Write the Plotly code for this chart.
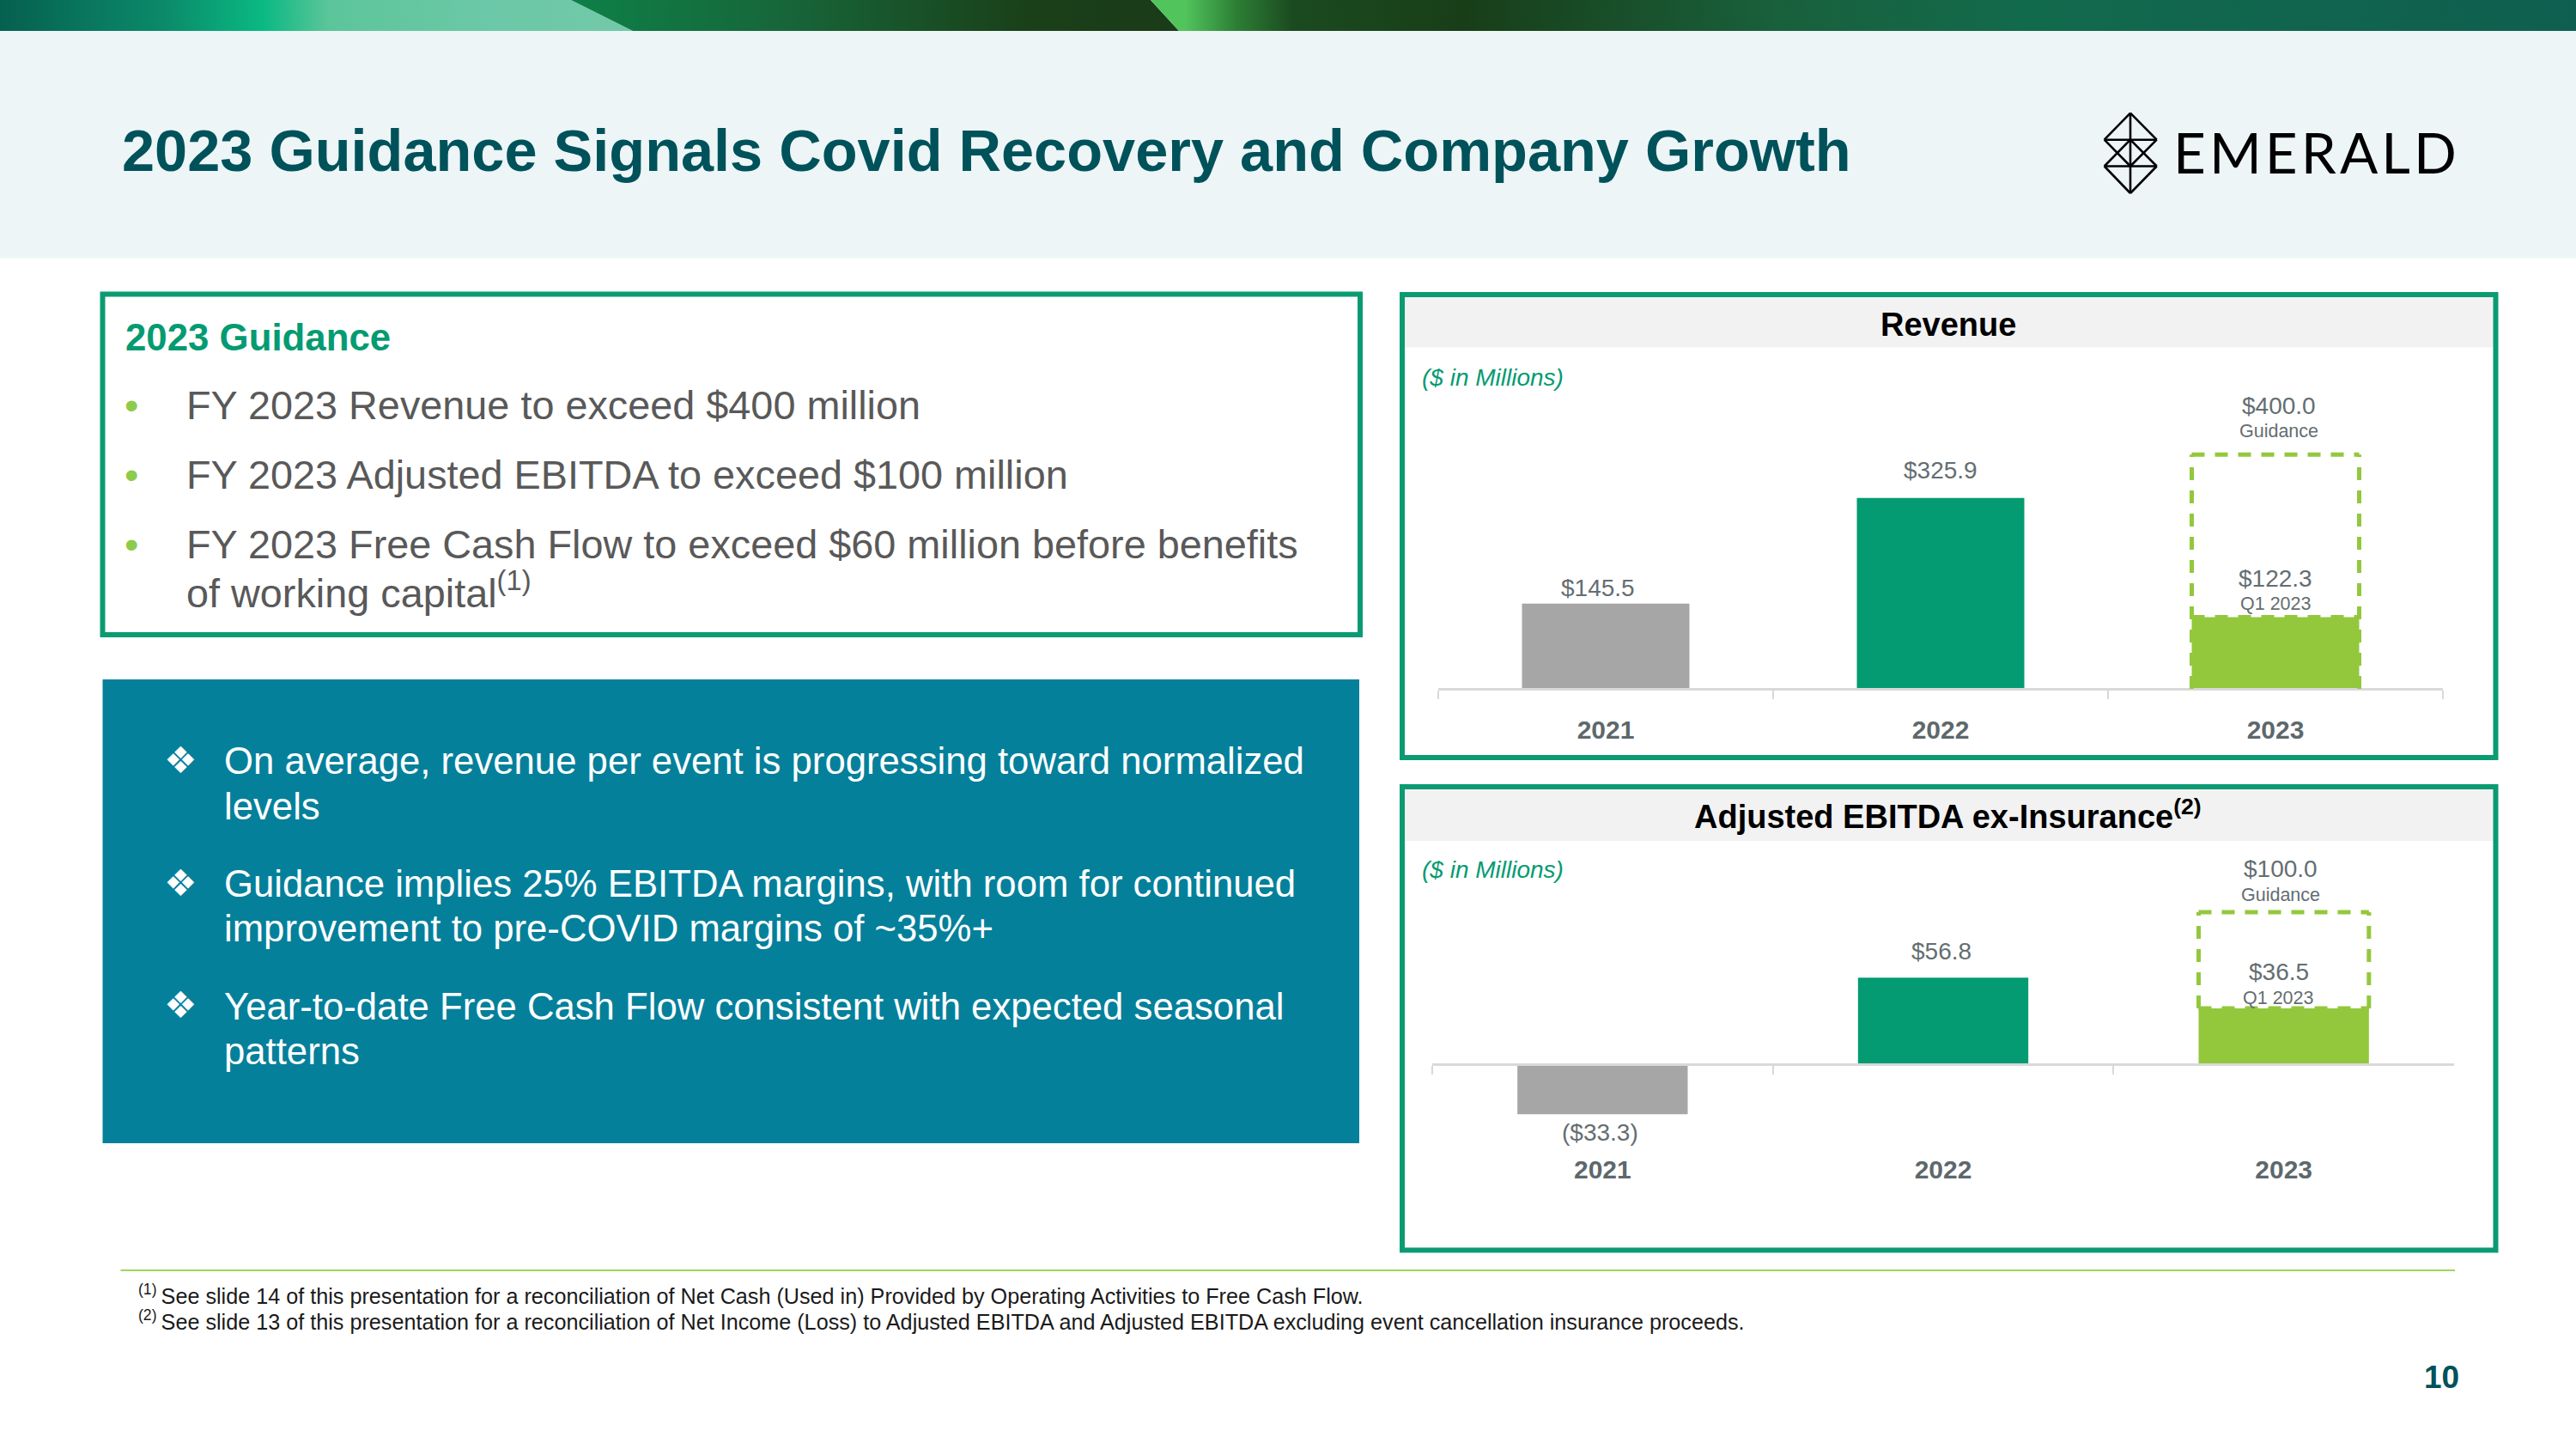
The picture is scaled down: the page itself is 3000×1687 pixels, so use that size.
import plotly.graph_objects as go

W, H = 3000, 1687

years = ["2021", "2022", "2023"]
revenue = [145.5, 325.9, 122.3]
revenue_guidance = 400.0
ebitda = [-33.3, 56.8, 36.5]
ebitda_guidance = 100.0

bar_colors = ["#A6A6A6", "#049B72", "#93C83D"]
panel_green = "#0B9B72"
label_gray = "#646E72"
body_gray = "#595959"
title_teal = "#00525A"
font_main = "Liberation Sans"

title = "2023 Guidance Signals Covid Recovery and Company Growth"
guidance_head = "2023 Guidance"
guidance_lines = [
    "FY 2023 Revenue to exceed $400 million",
    "FY 2023 Adjusted EBITDA to exceed $100 million",
    "FY 2023 Free Cash Flow to exceed $60 million before benefits",
    "of working capital<sup>(1)</sup>",
]
teal_lines = [
    "On average, revenue per event is progressing toward normalized",
    "levels",
    "Guidance implies 25% EBITDA margins, with room for continued",
    "improvement to pre-COVID margins of ~35%+",
    "Year-to-date Free Cash Flow consistent with expected seasonal",
    "patterns",
]
footnotes = [
    "<sup>(1)</sup>\u2009See slide 14 of this presentation for a reconciliation of Net Cash (Used in) Provided by Operating Activities to Free Cash Flow.",
    "<sup>(2)</sup>\u2009See slide 13 of this presentation for a reconciliation of Net Income (Loss) to Adjusted EBITDA and Adjusted EBITDA excluding event cancellation insurance proceeds.",
]


def px(x):
    return x / W


def py(y):
    return 1 - y / H


def money(v):
    return f"(${-v:.1f})" if v < 0 else f"${v:.1f}"


def rect(x0, y0, x1, y1, fill=None, line=None, lw=0):
    return dict(type="rect", xref="paper", yref="paper", x0=px(x0), x1=px(x1), y0=py(y0), y1=py(y1),
                fillcolor=fill if fill else "rgba(0,0,0,0)", layer="below",
                line=dict(color=line if line else "rgba(0,0,0,0)", width=lw))


def seg(x0, y0, x1, y1, color="#000000", lw=2.6):
    return dict(type="line", xref="paper", yref="paper", x0=px(x0), x1=px(x1), y0=py(y0), y1=py(y1),
                line=dict(color=color, width=lw))


def text(x, base, s, size, color, anchor="left", bold=False, italic=False, family=font_main):
    # base is the text baseline in page pixels
    return dict(xref="paper", yref="paper", x=px(x), y=py(base + 1.5 + 0.212 * size), text=s,
                showarrow=False, xanchor=anchor, yanchor="bottom", borderpad=0, align=anchor,
                font=dict(family=family, size=size, color=color, weight="bold" if bold else "normal",
                          style="italic" if italic else "normal"))


def dashed(xr, yr, x0, y0, x1, y1):
    return dict(type="line", xref=xr, yref=yr, x0=x0, x1=x1, y0=y0, y1=y1, layer="above",
                line=dict(color="#93C83D", width=5, dash="15px,12px"))


fig = go.Figure()

# top band, three slanted gradient pieces
band = [
    ([0, 665, 737, 0, 0], [0, 0, 36, 36, 0],
     [[0, "#06604F"], [0.26, "#0B8A6A"], [0.415, "#0AB982"], [0.52, "#5CC59A"], [0.78, "#6CC8A8"], [1, "#72C9A8"]]),
    ([665, 1340, 1373, 737, 665], [0, 0, 36, 36, 0],
     [[0, "#0D8048"], [0.35, "#17663A"], [0.75, "#1A4019"], [1, "#1A3B18"]]),
    ([1340, 3000, 3000, 1373, 1340], [0, 0, 36, 36, 0],
     [[0, "#52C45C"], [0.024, "#52C45C"], [0.06, "#2C7F35"], [0.1, "#1B4A20"], [0.22, "#183E18"],
      [0.44, "#19603C"], [0.61, "#126A4C"], [1, "#0F5F50"]]),
]
for bx, by, stops in band:
    fig.add_trace(go.Scatter(x=bx, y=by, xaxis="x3", yaxis="y3", mode="lines", line=dict(width=0),
                             fill="toself", fillgradient=dict(type="horizontal", colorscale=stops),
                             hoverinfo="skip", showlegend=False))

fig.add_trace(go.Bar(x=years, y=revenue, xaxis="x", yaxis="y", width=0.5, marker_color=bar_colors,
                     marker_line_width=0, hoverinfo="skip", showlegend=False))
fig.add_trace(go.Bar(x=years, y=ebitda, xaxis="x2", yaxis="y2", width=0.5, marker_color=bar_colors,
                     marker_line_width=0, hoverinfo="skip", showlegend=False))

shapes = [
    rect(0, 36, W, 300.5, fill="#EDF5F7"),
    rect(119.5, 342.5, 1584, 739, fill="#FFFFFF", line=panel_green, lw=6),
    rect(119.5, 791, 1583, 1331, fill="#05809B"),
    rect(1636, 346, 2904, 404.5, fill="#F2F2F2"),
    rect(1633, 343, 2906.5, 882, line=panel_green, lw=6),
    rect(1636, 916, 2904, 979, fill="#F2F2F2"),
    rect(1633, 916, 2906.5, 1455.5, line=panel_green, lw=6),
    rect(140.5, 1478, 2859, 1480, fill="#A0D657"),
]

# guidance outlines are drawn on the bar's own axes, open at the bottom so the axis stays clean
outlines = (("x", "y", revenue_guidance, revenue[2], 0), ("x2", "y2", ebitda_guidance, ebitda[2], ebitda[2]))
for xr, yr, guide, actual, side_from in outlines:
    shapes.append(dashed(xr, yr, 1.75, guide, 2.25, guide))
    shapes.append(dashed(xr, yr, 1.75, side_from, 1.75, guide))
    shapes.append(dashed(xr, yr, 2.25, side_from, 2.25, guide))
    shapes.append(dashed(xr, yr, 1.75, actual, 2.25, actual))

# logo mark
ink = [
    (2481, 131.7, 2450.7, 162.7), (2481, 131.7, 2511.7, 162.7), (2450.7, 162.7, 2511.7, 162.7),
    (2450.7, 162.7, 2481, 193.5), (2511.7, 162.7, 2481, 193.5),
    (2450.7, 193.5, 2481, 162.7), (2511.7, 193.5, 2481, 162.7),
    (2450.7, 193.5, 2511.7, 193.5), (2450.7, 193.5, 2481, 225), (2511.7, 193.5, 2481, 225),
    (2481, 131.7, 2481, 225),
]
shapes += [seg(*s) for s in ink]

notes = [
    text(141, 198.7, title, 68.5, title_teal, bold=True),
    text(2530, 201.7, "E\u200aM\u200aE\u200aR\u200aA\u200aL\u200aD", 65.5, "#000000", family="Lato"),
    text(144.6, 407, guidance_head, 43.8, "#049B72", bold=True),
]
for base, line in zip([487.7, 568.7, 650, 706.7], guidance_lines):
    notes.append(text(216, base, line, 46.8, body_gray))
for base in [487.7, 568.7, 650]:
    notes.append(text(153, base, "•", 47, "#8FCB4B", anchor="center"))
for base, line in zip([900.7, 953, 1043.6, 1095.6, 1185.8, 1238], teal_lines):
    notes.append(text(260, base, line, 43.7, "#FFFFFF"))
for base in [900.7, 1043.6, 1185.8]:
    notes.append(text(210, base, "❖", 43, "#FFFFFF", anchor="center", family="DejaVu Sans"))
for base, line in zip([1516.7, 1546.7], footnotes):
    notes.append(text(160, base, line, 25.2, "#1A1A1A"))
notes.append(text(2865, 1615.7, "10", 37, title_teal, anchor="right", bold=True))

notes.append(text(2269, 390, "Revenue", 38, "#000000", anchor="center", bold=True))
notes.append(text(2268, 963.6, "Adjusted EBITDA ex-Insurance<sup>(2)</sup>", 38, "#000000", anchor="center", bold=True))
notes.append(text(1655.4, 448.6, "($ in Millions)", 28, "#049B72", italic=True))
notes.append(text(1655.4, 1022, "($ in Millions)", 28, "#049B72", italic=True))

# value labels, page pixel spots
notes.append(text(1860.7, 693.6, money(revenue[0]), 28, label_gray, anchor="center"))
notes.append(text(2260, 556.8, money(revenue[1]), 28, label_gray, anchor="center"))
notes.append(text(2650, 682.9, money(revenue[2]), 28, label_gray, anchor="center"))
notes.append(text(2650, 710, "Q1 2023", 21.5, label_gray, anchor="center"))
notes.append(text(2653.7, 481.8, money(revenue_guidance), 28, label_gray, anchor="center"))
notes.append(text(2653.7, 509, "Guidance", 21.5, label_gray, anchor="center"))

notes.append(text(1864, 1327.3, money(ebitda[0]), 28, label_gray, anchor="center"))
notes.append(text(2260.6, 1117, money(ebitda[1]), 28, label_gray, anchor="center"))
notes.append(text(2653.7, 1141, money(ebitda[2]), 28, label_gray, anchor="center"))
notes.append(text(2653.7, 1169.3, "Q1 2023", 21.5, label_gray, anchor="center"))
notes.append(text(2656, 1021, money(ebitda_guidance), 28, label_gray, anchor="center"))
notes.append(text(2656, 1049, "Guidance", 21.5, label_gray, anchor="center"))

cat_axis = dict(type="category", categoryorder="array", categoryarray=years, range=[-0.5, 2.5], showgrid=False,
                zeroline=False, showline=True, linecolor="#D9D9D9", linewidth=3, ticks="outside", ticklen=10,
                tickwidth=1.5, tickcolor="#D9D9D9", tickson="boundaries",
                tickfont=dict(family=font_main, size=30, color="#5D686C", weight="bold"))

fig.update_layout(
    width=W, height=H, margin=dict(l=0, r=0, t=0, b=0), autosize=False,
    paper_bgcolor="#FFFFFF", plot_bgcolor="rgba(0,0,0,0)", showlegend=False,
    shapes=shapes, annotations=notes,
    xaxis=dict(cat_axis, domain=[px(1675), px(2845)], anchor="free", position=py(802), ticklabelstandoff=20),
    yaxis=dict(domain=[py(802), py(420)], range=[0, 382 / 0.682], visible=False, anchor="x"),
    xaxis2=dict(cat_axis, domain=[px(1668), px(2858)], anchor="free", position=py(1238.5), ticklabelstandoff=95),
    yaxis2=dict(domain=[py(1340), py(990)], range=[-101.5 / 1.765, 248.5 / 1.765], visible=False, anchor="x2"),
    xaxis3=dict(domain=[0, 1], range=[0, W], visible=False, anchor="y3"),
    yaxis3=dict(domain=[py(36), 1], range=[36, 0], visible=False, anchor="x3"),
)

# the page's default body margin would push the slide 8px off
fig.write_html("out.html", config={"displayModeBar": False}, post_script="document.body.style.margin = '0';")
